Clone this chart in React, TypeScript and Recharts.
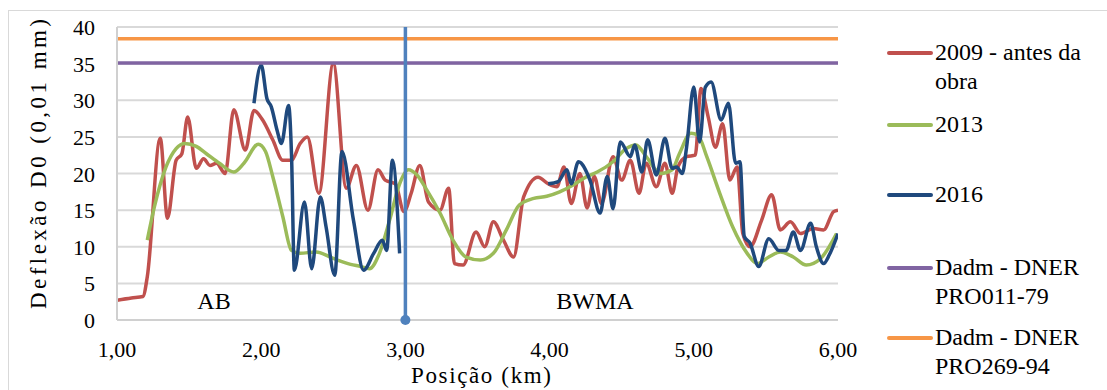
import React from "react"
import { LineChart, Line, XAxis, YAxis, CartesianGrid, ReferenceDot } from "recharts"

// Posição (km) and Deflexão D0 (0,01 mm)
const km2009 = [
  1.0, 1.1, 1.18, 1.21, 1.3, 1.35, 1.41, 1.45, 1.49, 1.55, 1.6, 1.645, 1.69, 1.75, 1.81, 1.89, 1.95, 2.01, 2.08,
  2.15, 2.21, 2.27, 2.32, 2.4, 2.5, 2.59, 2.66, 2.74, 2.81, 2.86, 2.93, 2.99, 3.04, 3.1, 3.16, 3.24, 3.3, 3.34,
  3.4, 3.49, 3.55, 3.61, 3.68, 3.75, 3.82, 3.92, 3.99, 4.05, 4.1, 4.15, 4.21, 4.26, 4.31, 4.36, 4.44, 4.5, 4.56,
  4.62, 4.67, 4.74, 4.8, 4.85, 4.89, 4.95, 5.01, 5.05, 5.1, 5.15, 5.2, 5.25, 5.3, 5.34, 5.39, 5.47, 5.54, 5.6,
  5.67, 5.74, 5.83, 5.9, 5.97, 6.0,
]
const d2009 = [
  2.7, 3.0, 3.2, 5.9, 24.8, 13.9, 21.8, 22.7, 27.7, 20.7, 22.0, 21.1, 21.4, 20.0, 28.7, 23.2, 28.6, 27.3, 24.6,
  21.8, 21.8, 24.1, 25.0, 17.3, 35.0, 18.0, 21.1, 15.0, 20.5, 19.1, 18.6, 14.8, 17.3, 21.1, 16.1, 15.0, 18.0, 7.7,
  7.5, 12.0, 10.0, 13.4, 10.9, 8.6, 16.8, 19.5, 18.6, 18.2, 20.9, 15.9, 20.0, 15.3, 19.6, 15.9, 22.3, 19.1, 21.8,
  17.3, 21.4, 18.2, 21.4, 17.3, 20.9, 22.3, 22.5, 31.6, 27.7, 23.6, 26.8, 19.1, 20.9, 11.8, 10.0, 13.6, 17.1, 12.3,
  13.4, 11.8, 12.5, 12.3, 14.8, 15.0,
]

const km2013 = [
  1.21, 1.26, 1.34, 1.41, 1.47, 1.55, 1.62, 1.71, 1.81, 1.88, 1.98, 2.03, 2.08, 2.15, 2.21, 2.27, 2.38, 2.5, 2.62,
  2.69, 2.75, 2.82, 2.89, 2.96, 3.02, 3.08, 3.15, 3.24, 3.33, 3.42, 3.52, 3.61, 3.7, 3.79, 3.89, 3.98, 4.07, 4.16,
  4.26, 4.33, 4.44, 4.53, 4.6, 4.67, 4.77, 4.85, 4.9, 4.98, 5.03, 5.09, 5.18, 5.27, 5.37, 5.44, 5.52, 5.6, 5.69,
  5.78, 5.88, 5.99,
]
const d2013 = [
  10.9, 15.5, 20.9, 23.4, 24.1, 23.7, 22.7, 21.4, 20.2, 21.4, 24.0, 23.0, 19.6, 14.1, 9.5, 9.1, 9.3, 8.4, 7.6,
  7.3, 7.0, 9.1, 13.6, 18.6, 20.5, 19.8, 17.7, 14.6, 10.9, 8.6, 8.2, 9.1, 12.3, 15.7, 16.6, 16.9, 17.5, 18.4,
  19.6, 20.2, 21.6, 23.4, 23.9, 22.3, 20.0, 20.5, 22.7, 25.5, 25.2, 22.3, 17.3, 12.7, 9.1, 7.7, 8.6, 9.3, 8.6,
  7.5, 8.4, 11.8,
]

// 2016 has no readings between ~3,0 and ~4,0 km
const km2016 = [
  1.95, 2.0, 2.04, 2.07, 2.11, 2.14, 2.19, 2.21, 2.23, 2.3, 2.35, 2.41, 2.45, 2.51, 2.56, 2.64, 2.71, 2.78, 2.84,
  2.87, 2.91, 2.96, 3.5, 3.99, 4.06, 4.12, 4.15, 4.2, 4.28, 4.35, 4.4, 4.44, 4.49, 4.56, 4.59, 4.64, 4.68, 4.74,
  4.8, 4.85, 4.88, 4.92, 4.95, 5.0, 5.04, 5.08, 5.12, 5.19, 5.24, 5.29, 5.32, 5.35, 5.39, 5.45, 5.52, 5.59, 5.64,
  5.69, 5.74, 5.81, 5.85, 5.9, 5.94, 6.0,
]
const d2016 = [
  29.6, 34.8, 30.2, 29.1, 25.9, 24.1, 29.3, 22.7, 6.8, 16.1, 7.0, 16.8, 12.7, 6.1, 23.0, 13.6, 6.8, 9.1, 10.9,
  9.5, 21.8, 9.1, null, 18.6, 18.9, 20.5, 18.6, 21.6, 19.1, 14.6, 19.6, 15.2, 24.3, 22.3, 23.9, 20.2, 24.6, 19.8,
  24.8, 20.7, 20.9, 20.0, 23.6, 31.8, 24.3, 31.8, 32.5, 27.3, 29.6, 21.4, 21.6, 11.4, 10.5, 7.3, 11.1, 9.5, 9.5,
  12.0, 9.5, 13.2, 10.0, 7.7, 8.9, 11.8,
]

const limitKm = [1, 6]
const dadm011 = [35.1, 35.1]
const dadm269 = [38.4, 38.4]

const dividerKm = [3, 3]
const dividerD = [0, 40]

const xTicks = [1, 2, 3, 4, 5, 6]
const yTicks = [0, 5, 10, 15, 20, 25, 30, 35, 40]

const zoneLabels = ["AB", "BWMA"]
const zoneKm = [1.673, 4.315]
const zoneD = [2.7, 2.7]

const legendNames = ["2009 - antes da obra", "2013", "2016", "Dadm - DNER PRO011-79", "Dadm - DNER PRO269-94"]
const legendColors = ["#c0504d", "#9bbb59", "#1f497d", "#8064a2", "#f79646"]

const FONT = "Liberation Serif, Tinos, Times New Roman, Times, DejaVu Serif, serif"

const toPoints = (xs: number[], ys: (number | null)[]) => xs.map((x, i) => ({ x, y: ys[i] }))

const YTick = ({ y, payload }: any) => (
  <text x={95} y={y + 8} textAnchor="end" fontSize={22} style={{ fontFamily: FONT }} fill="#000">
    {payload.value}
  </text>
)

const XTick = ({ x, payload }: any) => (
  <text x={x} y={357} textAnchor="middle" fontSize={22} style={{ fontFamily: FONT }} fill="#000">
    {payload.value.toFixed(2).replace(".", ",")}
  </text>
)

const XTitle = () => (
  <text
    x={481}
    y={383}
    textAnchor="middle"
    fontSize={23}
    style={{ fontFamily: FONT }}
    fill="#000"
    textLength={140}
    lengthAdjust="spacing"
  >
    Posição (km)
  </text>
)

const YTitle = () => (
  <text
    x={0}
    y={0}
    transform="translate(46 164) rotate(-90)"
    textAnchor="middle"
    fontSize={23}
    style={{ fontFamily: FONT }}
    fill="#000"
    textLength={290}
    lengthAdjust="spacing"
  >
    Deflexão D0 (0,01 mm)
  </text>
)

const DividerDot = (props: any) => {
  const { cx, cy, payload, index } = props
  if (payload.y !== 0) return <g key={`dd-${index}`} />
  return <circle key={`dd-${index}`} cx={cx} cy={cy} r={5} fill="#4f81bd" />
}

// legend rows sit on the right, next to the plot
const legendTops = [38, 110, 180, 253, 323]

export default function App() {
  const series = [
    toPoints(km2009, d2009),
    toPoints(km2013, d2013),
    toPoints(km2016, d2016),
    toPoints(limitKm, dadm011),
    toPoints(limitKm, dadm269),
  ]
  const divider = toPoints(dividerKm, dividerD)

  return (
    <div
      style={{
        position: "absolute",
        left: 0,
        top: 0,
        width: 1107,
        height: 390,
        overflow: "hidden",
        background: "#fff",
        fontFamily: FONT,
      }}
    >
      <div
        style={{
          position: "absolute",
          left: 8,
          top: 10,
          width: 1120,
          height: 400,
          border: "1px solid #d9d9d9",
        }}
      />
      <LineChart width={1107} height={390} margin={{ top: 27, right: 269, bottom: 0, left: 0 }}>
        <CartesianGrid horizontal vertical={false} stroke="#d9d9d9" strokeWidth={2} />
        <XAxis
          type="number"
          dataKey="x"
          domain={[1, 6]}
          ticks={xTicks}
          allowDataOverflow
          height={70}
          tickLine={false}
          axisLine={{ stroke: "#d0d0d0", strokeWidth: 2 }}
          tick={<XTick />}
          label={{ content: () => <XTitle /> }}
        />
        <YAxis
          type="number"
          domain={[0, 40]}
          ticks={yTicks}
          width={117}
          tickLine={false}
          axisLine={{ stroke: "#d0d0d0", strokeWidth: 2 }}
          tick={<YTick />}
          label={{ content: () => <YTitle /> }}
        />
        {series.map((pts, i) => (
          <Line
            key={legendNames[i]}
            data={pts}
            dataKey="y"
            type={i < 3 ? "monotone" : "linear"}
            stroke={legendColors[i]}
            strokeWidth={3.5}
            dot={false}
            activeDot={false}
            connectNulls={false}
            isAnimationActive={false}
          />
        ))}
        <Line
          data={divider}
          dataKey="y"
          type="linear"
          stroke="#4f81bd"
          strokeWidth={3.5}
          dot={<DividerDot />}
          activeDot={false}
          isAnimationActive={false}
        />
        {zoneLabels.map((label, i) => (
          <ReferenceDot
            key={label}
            x={zoneKm[i]}
            y={zoneD[i]}
            r={0}
            fill="none"
            stroke="none"
            label={{ value: label, position: "center", fontSize: 24, style: { fontFamily: FONT }, fill: "#000" }}
          />
        ))}
      </LineChart>
      {legendNames.map((name, i) => (
        <div key={name} style={{ position: "absolute", left: 887, top: legendTops[i], width: 215 }}>
          <div
            style={{
              position: "absolute",
              left: 0,
              top: 13,
              width: 46,
              height: 4,
              borderRadius: 2,
              background: legendColors[i],
            }}
          />
          <div
            style={{
              marginLeft: 48,
              width: 168,
              fontFamily: FONT,
              fontSize: 24,
              lineHeight: "29px",
              color: "#000",
            }}
          >
            {name}
          </div>
        </div>
      ))}
    </div>
  )
}
